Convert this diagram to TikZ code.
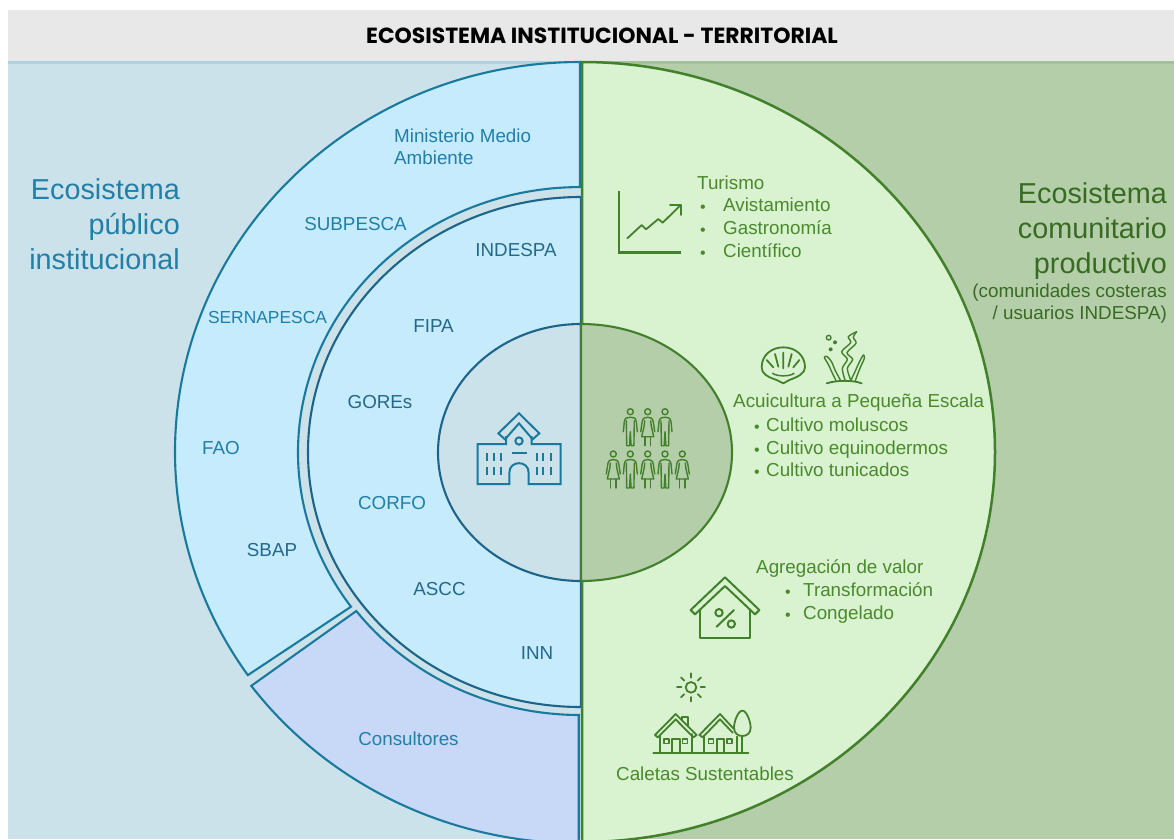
\documentclass[tikz,border=0pt]{standalone}
\usepackage{fontspec}
\usetikzlibrary{calc}
\setmainfont{Liberation Sans}
\newfontfamily\titlefont{Poppins}
\definecolor{bgblue}{HTML}{CBE2EA}
\definecolor{bggreen}{HTML}{B4CEAA}
\definecolor{headgrey}{HTML}{E8E8E8}
\definecolor{regblue}{HTML}{C5EBFD}
\definecolor{regcons}{HTML}{C8D8F7}
\definecolor{reggreen}{HTML}{D9F2D0}
\definecolor{lineblue}{HTML}{1A7A9E}
\definecolor{linedark}{HTML}{1E6488}
\definecolor{linegreen}{HTML}{42802C}
\definecolor{txtblue}{HTML}{217FA8}
\definecolor{txtdark}{HTML}{24688A}
\definecolor{txtgreen}{HTML}{4A8A2C}
\definecolor{txtdeep}{HTML}{386B22}
\tikzset{
  tx/.style={inner sep=0pt,font=\fontsize{18.8}{20}\selectfont},
  lb/.style={tx,anchor=base,text=txtblue},
  lbd/.style={tx,anchor=base,text=txtdark},
  gr/.style={tx,anchor=base west,text=txtgreen},
  bul/.style={inner sep=0pt,anchor=base,text=txtgreen,yshift=-1pt,font=\fontsize{16}{17}\selectfont},
  big/.style={inner sep=0pt,anchor=base east,font=\fontsize{28.8}{30}\selectfont},
  ico/.style={draw=linegreen,line width=1.8pt,line join=round,line cap=round},
  icob/.style={draw=lineblue,line width=2pt,line join=miter},
  man/.pic={
    \draw[ico,line width=1.4pt] (0,0) circle (3);
    \draw[ico,line width=1.4pt] (-7,20) -- (-6,10) .. controls (-5.5,6) and (-3,5.5) .. (0,5.5) .. controls (3,5.5) and (5.5,6) .. (6,10) -- (7,20);
    \draw[ico,line width=1.4pt] (-4,9) -- (-3.6,34) -- (-0.8,34) -- (0,20) -- (0.8,34) -- (3.6,34) -- (4,9);
  },
  woman/.pic={
    \draw[ico,line width=1.4pt] (0,0) circle (3);
    \draw[ico,line width=1.4pt] (-7,20) -- (-5.5,10) .. controls (-5,6.5) and (-3,5.5) .. (0,5.5) .. controls (3,5.5) and (5,6.5) .. (5.5,10) -- (7,20);
    \draw[ico,line width=1.4pt] (-3,9) -- (-3.5,14) -- (-6,25) -- (6,25) -- (3.5,14) -- (3,9);
    \draw[ico,line width=1.4pt] (-2.6,25) -- (-2.6,34) (2.6,25) -- (2.6,34);
  }
}
\begin{document}
\begin{tikzpicture}[x=1pt,y=1pt,yscale=-1]
\clip (0,0) rectangle (1174,839);
\fill[white] (0,0) rectangle (1174,839);
% backgrounds
\fill[bgblue] (8,61) rectangle (582,839);
\fill[bggreen] (582,61) rectangle (1174,839);
\fill[headgrey] (8,10) rectangle (1174,61);
\fill[bgblue!85!lineblue] (8,61) rectangle (582,63.5);
\fill[bggreen!85!linegreen] (582,61) rectangle (1174,63.5);
\node[inner sep=0pt,anchor=base,font=\titlefont\bfseries\fontsize{21.9}{24}\selectfont] (title) at (602,43.5) {ECOSISTEMA INSTITUCIONAL - TERRITORIAL};
% outer blue band
\draw[draw=lineblue,line width=2.1pt,fill=regblue,line join=miter]
  (580,62) arc[start angle=270,end angle=145.1,x radius=405,y radius=390]
  -- (351,606.7)
  arc[start angle=144.3,end angle=270,x radius=282,y radius=265] -- cycle;
% consultores
\draw[draw=lineblue,line width=2.1pt,fill=regcons,line join=miter]
  (356.3,611) arc[start angle=142.8,end angle=90,x radius=281,y radius=263]
  -- (578.7,715) -- (578.7,843.3)
  arc[start angle=90,end angle=143.3,x radius=408.4,y radius=391.3] -- cycle;
% middle half
\draw[draw=linedark,line width=2.1pt,fill=regblue]
  (581,197) arc[start angle=270,end angle=90,x radius=273,y radius=255] -- cycle;
% green half
\draw[draw=linegreen,line width=2.5pt,fill=reggreen]
  (582,62) arc[start angle=-90,end angle=90,x radius=413,y radius=390] -- cycle;
% centre
\draw[draw=linedark,line width=2.1pt,fill=bgblue]
  (581,324) arc[start angle=270,end angle=90,x radius=143,y radius=128.5] -- cycle;
\draw[draw=linegreen,line width=2.1pt,fill=bggreen]
  (581,324) arc[start angle=-90,end angle=90,x radius=151,y radius=128.5] -- cycle;
% left titles
\node[big,text=txtblue] (e1) at (180,199) {Ecosistema};
\node[big,text=txtblue] (e2) at (180,234) {público};
\node[big,text=txtblue] (e3) at (180,269) {institucional};
\node[big,text=txtdeep] (r1) at (1167,203) {Ecosistema};
\node[big,text=txtdeep] (r2) at (1167,238) {comunitario};
\node[big,text=txtdeep] (r3) at (1167,273) {productivo};
\node[tx,anchor=base east,text=txtdeep] (r4) at (1167,297) {(comunidades costeras};
\node[tx,anchor=base east,text=txtdeep] (r5) at (1167,319) {/ usuarios INDESPA)};
% left labels
\node[lb,anchor=base west] (min1) at (394,142.5) {Ministerio Medio};
\node[lb,anchor=base west] (min2) at (394,164.5) {Ambiente};
\node[lb] (sub) at (355.5,230) {SUBPESCA};
\node[lb,font=\fontsize{17.4}{20}\selectfont] (ser) at (267.5,323) {SERNAPESCA};
\node[lb] (fao) at (221,454.5) {FAO};
\node[lbd] (sbap) at (272,556.5) {SBAP};
\node[lbd] (ind) at (516,256.5) {INDESPA};
\node[lbd] (fipa) at (433.5,332.5) {FIPA};
\node[lbd] (gor) at (380,408.5) {GOREs};
\node[lb] (cor) at (392,509.5) {CORFO};
\node[lbd] (asc) at (439.5,595) {ASCC};
\node[lbd] (inn) at (537,659) {INN};
\node[lb] (con) at (408.5,745) {Consultores};
% right labels
\node[gr] (t0) at (697,189) {Turismo};
\node[bul] (tb1) at (703,211) {•};
\node[bul] (tb2) at (703,234) {•};
\node[bul] (tb3) at (703,257) {•};
\node[gr] (t1) at (723,211) {Avistamiento};
\node[gr] (t2) at (723,234) {Gastronomía};
\node[gr] (t3) at (723,257) {Científico};
\node[gr] (a0) at (733,407.5) {Acuicultura a Pequeña Escala};
\node[bul] (ab1) at (757,431) {•};
\node[bul] (ab2) at (757,454) {•};
\node[bul] (ab3) at (757,476) {•};
\node[gr] (a1) at (766,431) {Cultivo moluscos};
\node[gr] (a2) at (766,454) {Cultivo equinodermos};
\node[gr] (a3) at (766,476) {Cultivo tunicados};
\node[gr] (v0) at (756,573.5) {Agregación de valor};
\node[bul] (vb1) at (788,596) {•};
\node[bul] (vb2) at (788,619) {•};
\node[gr] (v1) at (803,596) {Transformación};
\node[gr] (v2) at (803,619) {Congelado};
\node[gr] (c0) at (616,780) {Caletas Sustentables};
% chart icon
\draw[ico,line cap=butt,line join=miter,line width=2.1pt] (619,190.7) -- (619,252.5) -- (681,252.5);
\draw[ico] (627.3,238.3) -- (641.7,225) -- (646,229.3) -- (658.3,219) -- (662.7,222.7) -- (680.7,205);
\draw[ico] (670,205) -- (680.7,205) -- (680.7,215);
% shell
\begin{scope}[shift={(590,160)},scale=1/3]
\draw[ico] (560,660) .. controls (530,650) and (515,640) .. (515,622)
  .. controls (515,585) and (545,562) .. (580,562)
  .. controls (615,562) and (645,585) .. (645,622)
  .. controls (645,640) and (625,650) .. (598,660) -- (580,670) -- cycle;
\draw[ico] (580,578) -- (580,625) (555,582) -- (565,620) (605,582) -- (595,620)
  (530,600) -- (550,622) (628,600) -- (610,622);
\draw[ico,line width=1.5pt] (548,640) .. controls (560,650) and (600,650) .. (612,640);
% seaweed
\draw[ico] (710,670) .. controls (740,660) and (790,660) .. (815,670);
\draw[ico,line width=1.4pt] (716,533) circle (7);
\fill[linegreen] (735,547) circle (6) (722,568) circle (6);
\draw[ico,line width=1.4pt] plot[smooth] coordinates {(765,660) (757,625) (772,598) (755,575) (782,548) (775,530) (800,515)};
\draw[ico,line width=1.4pt] plot[smooth] coordinates {(782,660) (772,625) (788,598) (771,578) (798,550) (790,532) (800,515)};
\draw[ico,line width=1.4pt] plot[smooth] coordinates {(738,662) (725,635) (716,615) (703,592) (712,590) (726,608) (735,630) (752,662)};
\draw[ico,line width=1.4pt] plot[smooth] coordinates {(782,662) (795,635) (806,610) (820,585) (823,595) (812,620) (802,645) (796,662)};
\end{scope}
% school
\begin{scope}[shift={(430,380)},scale=1/3]
\draw[icob] (228,168) -- (228,192) -- (143,192) -- (143,312) -- (238,312) -- (238,278)
  .. controls (238,240) and (296,240) .. (296,278) -- (296,312) -- (392,312) -- (392,192) -- (305,192) -- (305,168);
\draw[icob] (225,178) -- (205,160) -- (267,100) -- (328,160) -- (308,178) -- (267,130) -- cycle;
\draw[icob] (267,183) circle (11);
\draw[icob] (245,220) -- (290,220);
\foreach \wx in {172,192,213,320,340,362}{
  \draw[icob] (\wx,220) -- (\wx,243) (\wx,260) -- (\wx,285);
}
\end{scope}
% people
\path (630.3,411.7) pic[transform shape] {man};
\path (647.7,411.7) pic[transform shape] {woman};
\path (665,411.7) pic[transform shape] {man};
\path (613.3,454) pic[transform shape] {woman};
\path (630.3,454) pic[transform shape] {man};
\path (647.7,454) pic[transform shape] {woman};
\path (665,454) pic[transform shape] {man};
\path (682.3,454) pic[transform shape] {woman};
% house percent
\begin{scope}[shift={(600,560)},scale=1/3]
\draw[ico,line width=2pt] (272,150) -- (375,52) -- (478,150) -- (465,163) -- (375,78) -- (285,163) -- cycle;
\draw[ico,line width=2pt] (300,150) -- (300,235) -- (450,235) -- (450,150);
\draw[ico,line width=2pt] (350,200) -- (402,150) (357,158) circle (11) (394,192) circle (11);
% sun
\draw[ico] (273,382) circle (16);
\foreach \sa in {0,45,...,315}{
  \draw[ico] ($(273,382)+(\sa:29)$) -- ($(273,382)+(\sa:42)$);
}
% village
\draw[ico,line width=2pt] (160,580) -- (445,580);
\draw[ico] (165,525) -- (227,462) -- (290,525) -- (280,532) -- (227,478) -- (173,532) -- cycle;
\draw[ico] (180,530) -- (180,580) (275,522) -- (275,580) (215,580) -- (215,537) -- (240,537) -- (240,580);
\draw[ico,line width=1.5pt] (192,537) rectangle (207,550) (248,537) rectangle (263,550);
\draw[ico] (247,480) -- (247,470) -- (265,470) -- (265,498);
\draw[ico] (298,525) -- (360,462) -- (400,505) (308,532) -- (360,478) -- (398,518);
\draw[ico] (298,525) -- (308,532);
\draw[ico] (313,530) -- (313,580) (410,530) -- (410,580) (350,580) -- (350,537) -- (373,537) -- (373,580);
\draw[ico,line width=1.5pt] (325,537) rectangle (340,550) (381,537) rectangle (396,550);
\draw[ico] (427,452) .. controls (440,452) and (452,485) .. (452,503) .. controls (452,520) and (440,528) .. (427,528)
  .. controls (414,528) and (402,520) .. (402,503) .. controls (402,485) and (414,452) .. (427,452);
\draw[ico] (427,528) -- (427,580);
\end{scope}
\end{tikzpicture}
\end{document}
